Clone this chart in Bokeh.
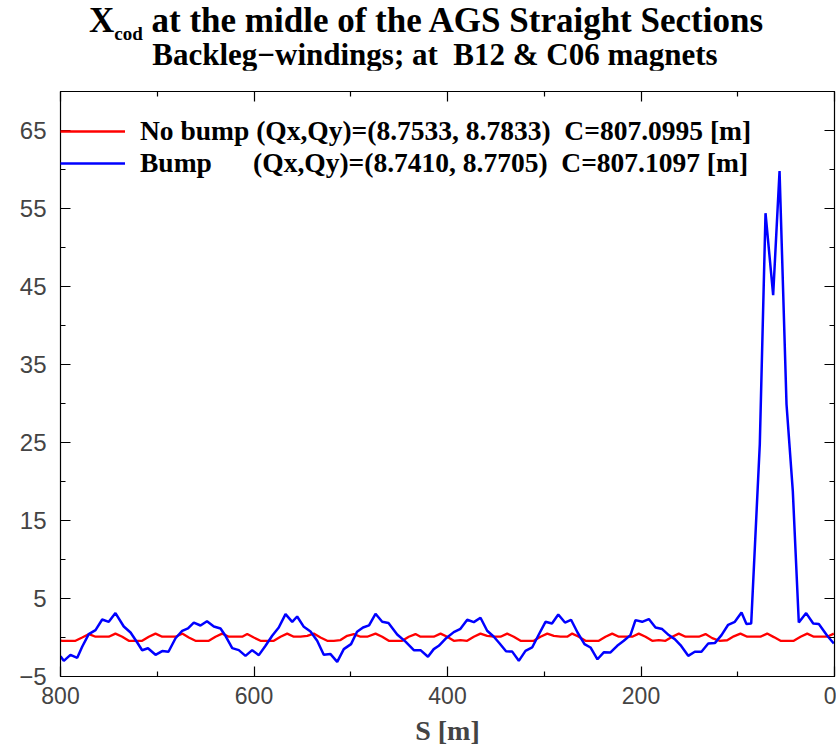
from bokeh.plotting import figure
from bokeh.models import Range1d, LinearAxis, FixedTicker, Legend, LegendItem, Div
from bokeh.layouts import column
from bokeh.embed import file_html
from bokeh.resources import INLINE

# ---- data ----
blue_s = [0.7, 7.5, 16.2, 22.0, 29.3, 36.9, 43.1, 49.6, 56.8, 63.4, 71.3, 77.2, 86.1, 91.0, 96.1,
          103.0, 109.9, 116.8, 123.7, 130.5, 137.5, 144.4, 151.2, 159.2, 165.1, 171.3, 178.1, 185.0,
          191.9, 198.8, 205.7, 210.9, 217.8, 224.6, 231.5, 238.5, 245.0, 252.2, 258.4, 265.6, 272.3,
          278.6, 285.5, 292.0, 298.7, 305.6, 312.5, 319.4, 326.3, 333.1, 339.5, 346.3, 352.1, 359.0,
          365.9, 372.8, 379.6, 386.6, 393.5, 402.1, 409.0, 414.2, 420.2, 427.9, 434.8, 443.4, 452.0,
          461.0, 467.5, 474.4, 481.1, 487.3, 493.5, 499.7, 507.2, 514.0, 520.9, 527.9, 534.7, 541.6,
          548.5, 555.4, 560.5, 567.4, 574.4, 581.2, 588.1, 595.0, 601.9, 608.8, 615.7, 622.5, 629.5,
          634.6, 641.5, 648.6, 655.3, 662.2, 668.2, 674.2, 681.1, 688.4, 694.9, 701.8, 709.6, 715.6,
          720.7, 727.6, 734.6, 743.2, 750.1, 756.9, 763.8, 770.8, 777.6, 782.7, 789.7, 796.6, 800.0]
blue_x = [-0.77, 0.22, 1.72, 1.79, 3.13, 1.92, 18.8, 29.9, 59.8, 43.9, 54.4, 24.8, 1.79, 1.72, 3.2,
          2.01, 1.63, 0.31, -0.72, -0.77, -1.83, -1.83, -2.35, -0.97, -0.21, 0.31, 1.08, 1.28,
          2.36, 2.01, 2.23, 0.31, -0.42, -1.06, -1.92, -1.90, -2.79, -1.28, -0.85, 0.64, 2.27,
          1.92, 2.95, 1.79, 2.01, 0.38, -1.28, -1.71, -2.99, -1.81, -1.77, -0.74, 0.09, 0.86,
          2.53, 1.97, 2.27, 1.12, 0.69, -0.17, -1.06, -1.49, -2.47, -1.62, -1.62, -0.53, 0.38,
          1.85, 2.01, 3.04, 1.56, 1.28, 0.73, -0.85, -1.49, -3.12, -2.13, -2.22, -0.42, 0.77,
          1.37, 2.69, 2.01, 3.0, 1.28, 0.22, -1.06, -2.26, -1.62, -2.35, -1.62, -1.36, 0.22,
          1.15, 1.41, 2.08, 1.54, 1.91, 1.18, 0.86, -0.10, -1.83, -1.74, -2.22, -1.38, -1.64,
          -0.64, 0.64, 1.41, 3.13, 2.01, 2.31, 0.95, 0.44, -1.19, -2.60, -2.22, -2.99, -2.41]

red_s = [0.7, 7.5, 14.5, 21.4, 28.2, 35.1, 42.1, 48.9, 55.8, 62.7, 69.6, 76.5, 83.4, 90.2, 97.2,
         104.1, 110.9, 119.0, 126.4, 133.3, 140.2, 147.1, 154.0, 160.9, 167.7, 174.7, 181.6, 188.4,
         195.3, 202.3, 209.1, 216.0, 222.9, 229.8, 236.7, 243.6, 250.4, 257.4, 264.3, 271.1, 276.3,
         283.2, 290.1, 296.9, 303.9, 310.8, 317.6, 324.5, 331.5, 338.3, 345.2, 352.1, 359.0, 365.9,
         372.8, 379.7, 386.6, 393.5, 400.3, 407.2, 414.2, 421.0, 427.9, 433.1, 440.0, 446.8, 453.7,
         460.7, 467.5, 474.4, 483.0, 489.9, 496.8, 503.7, 510.6, 517.5, 524.3, 531.3, 538.2, 545.0,
         551.9, 558.9, 565.7, 572.6, 579.5, 586.4, 593.3, 600.2, 607.0, 612.2, 619.1, 626.0, 632.9,
         639.8, 646.7, 653.5, 660.5, 667.4, 674.2, 681.1, 688.1, 694.9, 701.8, 708.7, 715.6, 722.5,
         729.4, 736.2, 743.2, 750.1, 756.9, 763.8, 770.5, 777.6, 784.5, 791.3, 798.2, 803.0]
red_x = [0.5, 0.1, 0.1, 0.1, 0.5, 0.1, -0.42, -0.42, -0.42, 0.05, 0.5, 0.1, 0.1, 0.1, 0.5,
         0.15, -0.35, -0.42, -0.08, 0.44, 0.1, 0.1, 0.1, 0.5, 0.1, -0.42, -0.33, -0.42,
         0.1, 0.5, 0.1, 0.1, 0.1, 0.5, 0.1, -0.42, -0.42, -0.42, 0.1, 0.5, 0.1,
         0.1, 0.22, 0.5, 0.1, -0.42, -0.42, -0.42, 0.1, 0.5, 0.1, 0.1, 0.2, 0.5,
         0.1, -0.42, -0.33, -0.42, 0.1, 0.5, 0.1, 0.1, 0.1, 0.44, 0.1, -0.42, -0.42,
         -0.42, 0.1, 0.5, 0.1, 0.1, 0.44, 0.22, -0.33, -0.42, -0.42, 0.0, 0.5, 0.22,
         0.1, 0.1, 0.5, 0.1, -0.42, -0.42, -0.42, 0.0, 0.44, 0.1, 0.1, 0.1, 0.5,
         0.1, -0.42, -0.42, -0.42, 0.0, 0.5, 0.1, 0.1, 0.1, 0.5, 0.1, -0.42, -0.42,
         -0.42, 0.1, 0.5, 0.1, 0.1, 0.1, 0.44, 0.0, -0.42, -0.42, -0.42, -0.3]

x_major = [0, 200, 400, 600, 800]
x_minor = [100, 300, 500, 700]
y_major = [-5, 5, 15, 25, 35, 45, 55, 65]
y_minor = [0, 10, 20, 30, 40, 50, 60, 70]

label_nobump = "No bump (Qx,Qy)=(8.7533, 8.7833)\u00a0\u00a0C=807.0995 [m]"
label_bump = "Bump" + "\u00a0" * 6 + "(Qx,Qy)=(8.7410, 8.7705)\u00a0\u00a0C=807.1097 [m]"

SERIF = "Liberation Serif"
SANS = "Liberation Sans"

title_html = (
    '<div style="font-family:\'Liberation Serif\',serif;font-weight:bold;color:#000;'
    'text-align:center;width:840px;">'
    '<div style="font-size:35px;line-height:41px;height:41px;padding-left:12px;white-space:nowrap;">'
    'X<span style="font-size:19px;position:relative;top:8px;">cod</span>'
    ' at the midle of the AGS Straight Sections</div>'
    '<div style="font-size:31px;line-height:27px;height:29px;padding-left:30px;white-space:nowrap;">'
    'Backleg\u2212windings; at&nbsp; B12 &amp; C06 magnets</div></div>'
)
title = Div(text=title_html, width=840, height=70, margin=0)

p = figure(frame_width=774, frame_height=585,
           x_range=Range1d(800, 0), y_range=Range1d(-5, 70),
           output_backend="svg", toolbar_location=None,
           min_border_left=60, min_border_right=2, min_border_top=21, min_border_bottom=0)
p.xgrid.visible = False
p.ygrid.visible = False
p.outline_line_color = "black"
p.background_fill_color = "white"
p.border_fill_color = "white"


def style_axis(ax):
    ax.major_tick_in = 10
    ax.major_tick_out = 0
    ax.minor_tick_in = 5
    ax.minor_tick_out = 0
    ax.axis_line_color = "black"
    ax.major_tick_line_color = "black"
    ax.minor_tick_line_color = "black"
    ax.axis_line_width = 1.2
    ax.major_tick_line_width = 1.2
    ax.minor_tick_line_width = 1.2


xt = FixedTicker(ticks=x_major, minor_ticks=x_minor)
yt = FixedTicker(ticks=y_major, minor_ticks=y_minor)

xa = p.xaxis[0]
xa.ticker = xt
style_axis(xa)
xa.major_label_text_font = SANS
xa.major_label_text_font_size = "23px"
xa.major_label_standoff = 10
xa.axis_label = "S [m]"
xa.axis_label_text_font = SERIF
xa.axis_label_text_font_style = "bold"
xa.axis_label_text_font_size = "28px"
xa.axis_label_standoff = 8

ya = p.yaxis[0]
ya.ticker = yt
style_axis(ya)
ya.major_label_text_font = SANS
ya.major_label_text_font_size = "24px"
ya.major_label_standoff = 14

top = LinearAxis(ticker=xt, major_label_overrides={v: "" for v in x_major}, major_label_standoff=0)
style_axis(top)
p.add_layout(top, "above")
right = LinearAxis(ticker=yt, major_label_overrides={v: "" for v in y_major}, major_label_standoff=0)
style_axis(right)
p.add_layout(right, "right")

r_red = p.line(red_s, red_x, line_color="#ff0000", line_width=2.3)
r_blue = p.line(blue_s, blue_x, line_color="#0000ff", line_width=2.5)

legend = Legend(items=[LegendItem(label=label_nobump, renderers=[r_red]),
                       LegendItem(label=label_bump, renderers=[r_blue])],
                location=(0, 497), orientation="vertical")
legend.margin = 0
legend.padding = 0
legend.spacing = 0
legend.border_line_alpha = 0
legend.background_fill_alpha = 0
legend.glyph_width = 65
legend.glyph_height = 32
legend.label_height = 32
legend.label_standoff = 15
legend.label_text_font = SERIF
legend.label_text_font_style = "bold"
legend.label_text_font_size = "27.5px"
legend.label_text_color = "black"
p.add_layout(legend)

layout = column(title, p, spacing=0)
open("out.html", "w").write(file_html(layout, INLINE))
